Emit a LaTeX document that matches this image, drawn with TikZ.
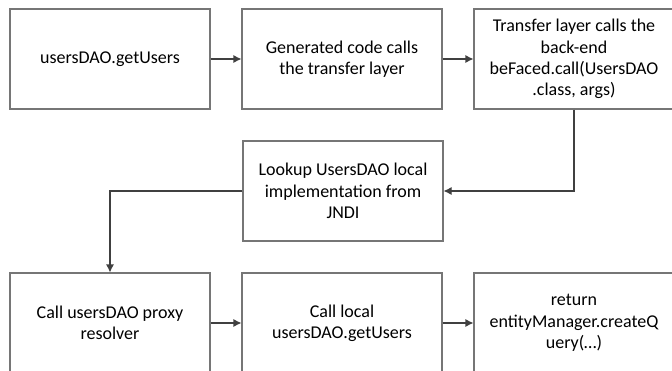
\documentclass[tikz,border=0pt]{standalone}
\usepackage{fontspec}
\setmainfont{Carlito}
\usetikzlibrary{arrows.meta}

\definecolor{boxgray}{RGB}{118,118,118}
\definecolor{linegray}{RGB}{64,64,64}

\begin{document}
\begin{tikzpicture}[x=0.75pt,y=-0.75pt]

\tikzset{step box/.style = {shape=rectangle,draw=boxgray,line width=0.8pt,minimum width=150pt,minimum height=75pt,align=center,inner sep=0pt,font=\fontsize{13.5}{16}\selectfont}}
\tikzset{edge/.style = {->,> = {Latex[length=6pt,width=6pt]},draw=linegray,line width=0.8pt}}

\useasboundingbox (0,0) rectangle (672,371);
\clip (0,0) rectangle (672,371);

% boxes
\node[step box] (getusers) at (110,59) {usersDAO.getUsers};
\node[step box] (generated) at (342,59) {Generated code calls\\the transfer layer};
\node[step box] (transfer) at (574,59) {Transfer layer calls the\\back-end\\beFaced.call(UsersDAO\\.class, args)};
\node[step box] (lookup) at (343,191) {Lookup UsersDAO local\\implementation from\\JNDI};
\node[step box] (proxy) at (110,323) {Call usersDAO proxy\\resolver};
\node[step box] (local) at (342,323) {Call local\\usersDAO.getUsers};
\node[step box] (query) at (574,323) {return\\entityManager.createQ\\uery(…)};

% arrows
\draw[edge] (getusers) -- (generated);
\draw[edge] (generated) -- (transfer);
\draw[edge] (transfer.south) |- (lookup.east);
\draw[edge] (lookup.west) -| (proxy.north);
\draw[edge] (proxy) -- (local);
\draw[edge] (local) -- (query);

\end{tikzpicture}
\end{document}
